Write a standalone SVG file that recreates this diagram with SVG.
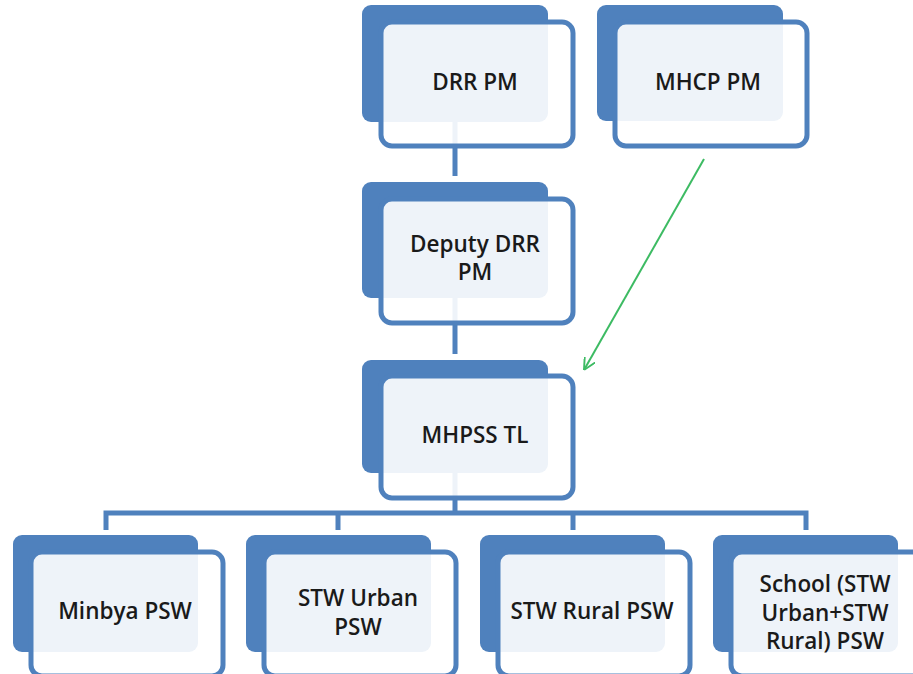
<svg xmlns="http://www.w3.org/2000/svg" width="913" height="674" viewBox="0 0 913 674">
<defs>
<style>
.back{fill:#4f81bd;}
.front{fill:#ffffff;fill-opacity:0.9;stroke:#4f81bd;stroke-width:5;}
.conn{stroke:#4f81bd;stroke-width:5;fill:none;}
.lbl{font-family:"Open Sans","Liberation Sans",sans-serif;font-size:22.5px;font-weight:600;fill:#1a1a1a;text-anchor:middle;}
.arrow{stroke:#3dbb63;stroke-width:2;fill:none;}
</style>
<marker id="ah" markerWidth="12" markerHeight="12" refX="10" refY="5" orient="auto" markerUnits="userSpaceOnUse" viewBox="0 0 10 10">
<path d="M0,0 L10,5 L0,10" fill="none" stroke="#3dbb63" stroke-width="1.6"/>
</marker>
</defs>
<rect width="913" height="674" fill="#ffffff"/>
<g id="backs">
<rect class="back" x="362" y="5" width="186" height="117" rx="9"/>
<rect class="back" x="597" y="5" width="186" height="116" rx="9"/>
<rect class="back" x="362" y="182" width="186" height="116" rx="9"/>
<rect class="back" x="362" y="360" width="186" height="113" rx="9"/>
<rect class="back" x="13" y="535" width="185" height="117" rx="9"/>
<rect class="back" x="246" y="535" width="185" height="117" rx="9"/>
<rect class="back" x="480" y="535" width="185" height="117" rx="9"/>
<rect class="back" x="713" y="535" width="185" height="117" rx="9"/>
</g>
<g id="connectors">
<path class="conn" d="M455,122 V176"/>
<path class="conn" d="M455,298 V354"/>
<path class="conn" d="M455,473 V513"/>
<path class="conn" d="M106,530 V513 H806 V530"/>
<path class="conn" d="M338,513 V530"/>
<path class="conn" d="M573,513 V530"/>
<line class="arrow" x1="704" y1="159" x2="584" y2="370" marker-end="url(#ah)"/>
</g>
<g id="n-drr">
<rect class="front" x="381" y="22" width="192" height="124" rx="11"/>
<text class="lbl" x="475" y="90">DRR PM</text>
</g>
<g id="n-mhcp">
<rect class="front" x="615" y="22" width="192" height="124" rx="11"/>
<text class="lbl" x="708" y="90">MHCP PM</text>
</g>
<g id="n-deputy">
<rect class="front" x="381" y="199" width="192" height="124" rx="11"/>
<text class="lbl" x="475" y="252">Deputy DRR</text>
<text class="lbl" x="475" y="280">PM</text>
</g>
<g id="n-mhpss">
<rect class="front" x="381" y="376" width="192" height="122" rx="11"/>
<text class="lbl" x="475" y="443">MHPSS TL</text>
</g>
<g id="n-minbya">
<rect class="front" x="31" y="552" width="192" height="124" rx="11"/>
<text class="lbl" x="125" y="619">Minbya PSW</text>
</g>
<g id="n-urban">
<rect class="front" x="264" y="552" width="192" height="124" rx="11"/>
<text class="lbl" x="358" y="606">STW Urban</text>
<text class="lbl" x="358" y="635">PSW</text>
</g>
<g id="n-rural">
<rect class="front" x="498" y="552" width="192" height="124" rx="11"/>
<text class="lbl" x="592" y="619">STW Rural PSW</text>
</g>
<g id="n-school">
<rect class="front" x="731" y="552" width="192" height="124" rx="11"/>
<text class="lbl" x="825" y="592">School (STW</text>
<text class="lbl" x="825" y="621">Urban+STW</text>
<text class="lbl" x="825" y="649">Rural) PSW</text>
</g>
</svg>
